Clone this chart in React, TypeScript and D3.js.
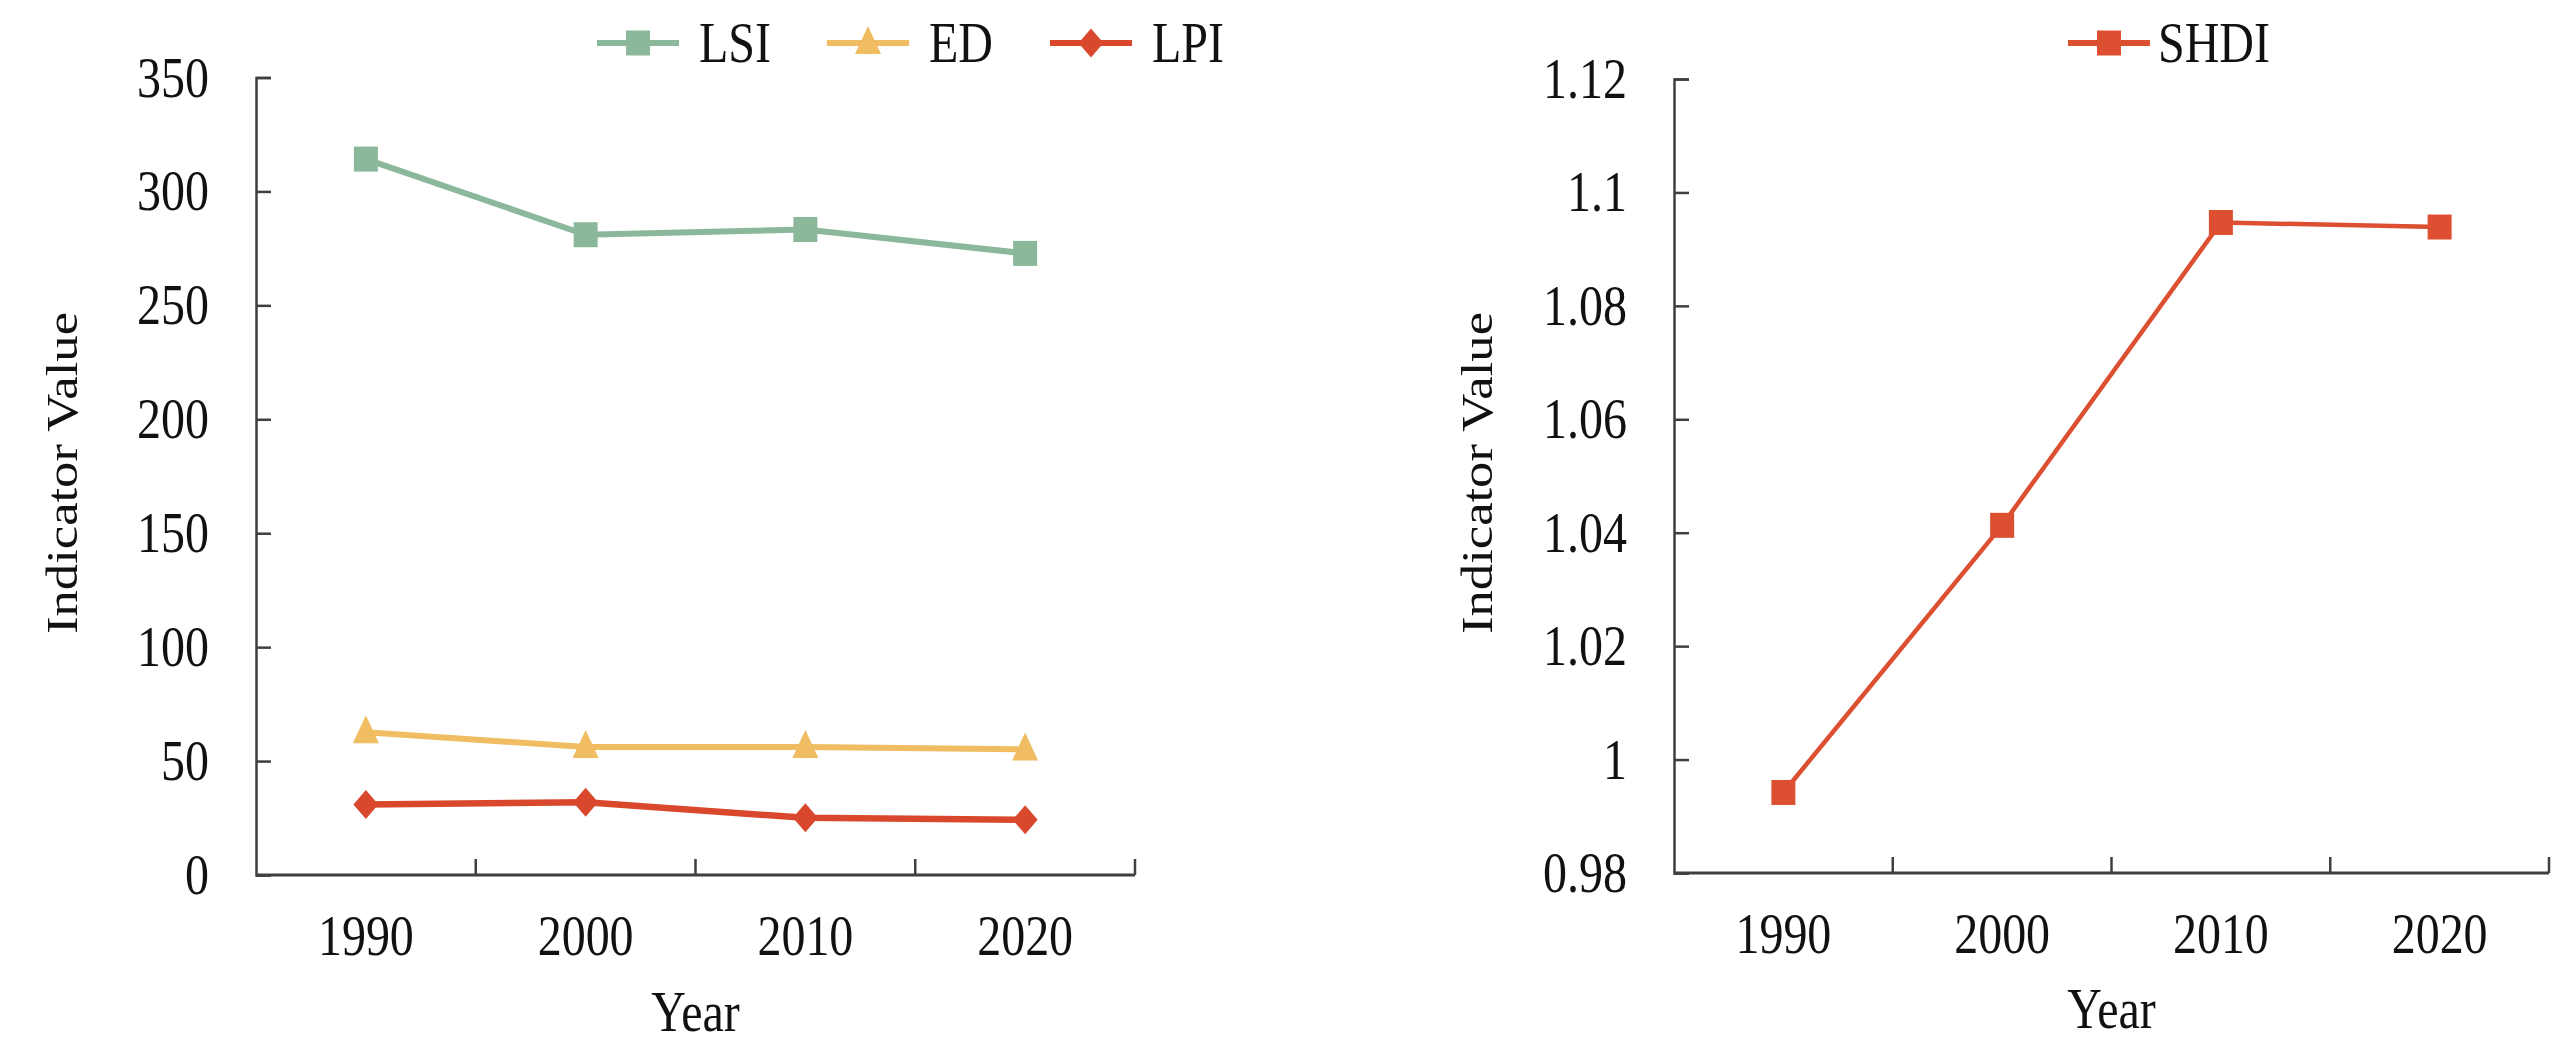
import { useEffect, useRef } from "react";
import * as d3 from "d3";

// Data
const years = ["1990", "2000", "2010", "2020"];
const lsiValues = [314.2, 281, 283.3, 272.8];
const edValues = [62.6, 56.2, 56.2, 55.1];
const lpiValues = [30.9, 31.9, 25.1, 24.2];
const shdiValues = [0.9942, 1.0413, 1.0947, 1.0939];

const leftTicks = [0, 50, 100, 150, 200, 250, 300, 350];
const rightTicks = [0.98, 1, 1.02, 1.04, 1.06, 1.08, 1.1, 1.12];

const FONT = "'Liberation Serif', 'Times New Roman', serif";
const AXIS_COLOR = "#3f3f3f";
// the original figure is stretched vertically a little, text included
const STRETCH = 1.17;
const FS = 48;

type Series = {
  name: string;
  values: number[];
  color: string;
  marker: "square" | "triangle" | "diamond";
  width: number;
};

const leftSeries: Series[] = [
  { name: "LSI", values: lsiValues, color: "#8bb89a", marker: "square", width: 6 },
  { name: "ED", values: edValues, color: "#f0bd62", marker: "triangle", width: 6 },
  { name: "LPI", values: lpiValues, color: "#d9482d", marker: "diamond", width: 6.5 },
];

const rightSeries: Series[] = [
  { name: "SHDI", values: shdiValues, color: "#dc4f31", marker: "square", width: 4.5 },
];

function markerPath(kind: Series["marker"]) {
  if (kind === "square") return "M-12,-12.5H12V12.5H-12Z";
  if (kind === "triangle") return "M0,-17L13,11H-13Z";
  return "M0,-14.5L12.5,0L0,14.5L-12.5,0Z";
}

type G = d3.Selection<SVGGElement, unknown, null, undefined>;

function addText(g: G, x: number, y: number, str: string, anchor = "start") {
  g.append("text")
    .attr("transform", `translate(${x},${y}) scale(1,${STRETCH})`)
    .attr("text-anchor", anchor)
    .attr("font-family", FONT)
    .attr("font-size", FS)
    .attr("fill", "#111")
    .text(str);
}

type Panel = {
  series: Series[];
  xRange: [number, number];
  yDomain: [number, number];
  yRange: [number, number];
  ticks: number[];
  fmt: (d: number) => string;
  yLabelX: number;
  yearY: number;
  legend: { lineX: number; textX: number }[];
};

function drawPanel(svg: d3.Selection<SVGSVGElement, unknown, null, undefined>, p: Panel) {
  const g = svg.append("g");
  const x = d3.scaleBand<string>().domain(years).range(p.xRange);
  const y = d3.scaleLinear().domain(p.yDomain).range(p.yRange);
  const bottom = p.yRange[0];
  const cx = (i: number) => (x(years[i]) || 0) + x.bandwidth() / 2;

  // y axis (ticks inside)
  const yAxis = g
    .append("g")
    .attr("transform", `translate(${p.xRange[0]},0)`)
    .call(
      d3
        .axisRight(y)
        .tickValues(p.ticks)
        .tickSize(15)
        .tickFormat(() => "")
    );
  yAxis.select(".domain").attr("stroke", AXIS_COLOR).attr("stroke-width", 2.5);
  yAxis.selectAll(".tick line").attr("stroke", AXIS_COLOR).attr("stroke-width", 2.5);

  p.ticks.forEach((t) => addText(g, p.xRange[0] - 47, y(t) + 19, p.fmt(t), "end"));

  // x axis: category boundaries, ticks pointing up
  const boundaries = years.map((yr) => x(yr) || 0).concat([p.xRange[1]]);
  g.append("line")
    .attr("x1", p.xRange[0])
    .attr("x2", p.xRange[1])
    .attr("y1", bottom)
    .attr("y2", bottom)
    .attr("stroke", AXIS_COLOR)
    .attr("stroke-width", 3);
  g.selectAll(".xt")
    .data(boundaries.slice(1))
    .join("line")
    .attr("class", "xt")
    .attr("x1", (d) => d)
    .attr("x2", (d) => d)
    .attr("y1", bottom)
    .attr("y2", bottom - 16)
    .attr("stroke", AXIS_COLOR)
    .attr("stroke-width", 2.5);

  years.forEach((yr, i) => addText(g, cx(i), bottom + 80, yr, "middle"));

  // axis titles
  addText(g, (p.xRange[0] + p.xRange[1]) / 2, p.yearY, "Year", "middle");
  g.append("text")
    .attr("transform", `translate(${p.yLabelX},473) rotate(-90) scale(${STRETCH},1)`)
    .attr("text-anchor", "middle")
    .attr("font-family", FONT)
    .attr("font-size", 45)
    .attr("fill", "#111")
    .text("Indicator Value");

  // series
  const line = d3
    .line<number>()
    .x((_, i) => cx(i))
    .y((d) => y(d));

  p.series.forEach((s, si) => {
    g.append("path")
      .datum(s.values)
      .attr("d", line)
      .attr("fill", "none")
      .attr("stroke", s.color)
      .attr("stroke-width", s.width)
      .attr("stroke-linejoin", "round");
    g.selectAll(`.mk-${s.name}`)
      .data(s.values)
      .join("path")
      .attr("class", `mk-${s.name}`)
      .attr("transform", (d, i) => `translate(${cx(i)},${y(d)})`)
      .attr("d", markerPath(s.marker))
      .attr("fill", s.color);

    // legend entry
    const lg = p.legend[si];
    const ly = 43;
    g.append("line")
      .attr("x1", lg.lineX)
      .attr("x2", lg.lineX + 82)
      .attr("y1", ly)
      .attr("y2", ly)
      .attr("stroke", s.color)
      .attr("stroke-width", 6);
    g.append("path")
      .attr("transform", `translate(${lg.lineX + 41},${ly})`)
      .attr("d", markerPath(s.marker))
      .attr("fill", s.color);
    addText(g, lg.textX, ly + 19, s.name);
  });
}

export default function App() {
  const svgRef = useRef<SVGSVGElement>(null);

  useEffect(() => {
    if (!svgRef.current) return;
    const svg = d3.select(svgRef.current);
    svg.selectAll("*").remove();

    drawPanel(svg, {
      series: leftSeries,
      xRange: [256, 1135],
      yDomain: [0, 350],
      yRange: [875, 77.5],
      ticks: leftTicks,
      fmt: (d) => String(d),
      yLabelX: 77,
      yearY: 1031,
      legend: [
        { lineX: 597, textX: 699 },
        { lineX: 827, textX: 929 },
        { lineX: 1050, textX: 1152 },
      ],
    });

    drawPanel(svg, {
      series: rightSeries,
      xRange: [1674, 2549],
      yDomain: [0.98, 1.12],
      yRange: [873, 79],
      ticks: rightTicks,
      fmt: (d) => String(+d.toFixed(2)),
      yLabelX: 1492,
      yearY: 1028,
      legend: [{ lineX: 2068, textX: 2158 }],
    });
  }, []);

  return (
    <div style={{ position: "absolute", left: 0, top: 0, background: "#fff" }}>
      <svg ref={svgRef} width={2561} height={1059} style={{ display: "block" }} />
    </div>
  );
}
